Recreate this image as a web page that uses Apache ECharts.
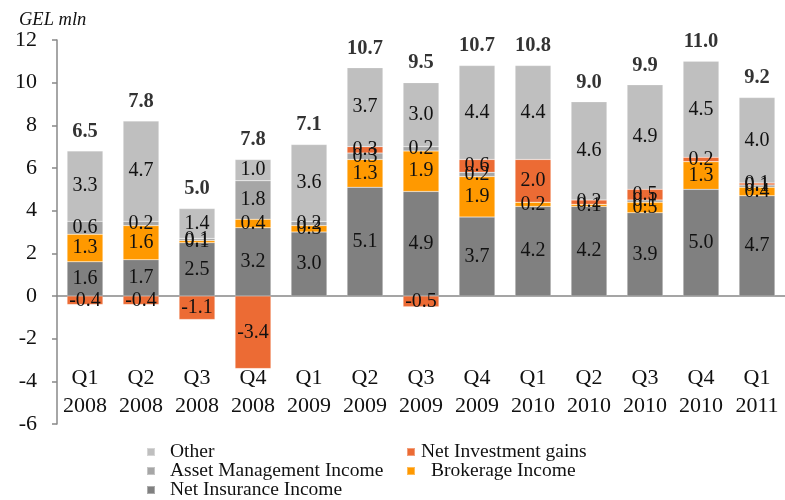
<!DOCTYPE html>
<html lang="en">
  <head>
    <meta charset="UTF-8" />
    <title>Revenue breakdown</title>
    <style>
      html,
      body {
        margin: 0;
        padding: 0;
        background: #fff;
      }
      #main {
        width: 785px;
        height: 500px;
      }
    </style>
  </head>
  <body>
    <div id="main"></div>
    <script src="https://cdn.jsdelivr.net/npm/echarts@6.0.0/dist/echarts.min.js"></script>
    <script>
      // data
      const quarters = ["Q1", "Q2", "Q3", "Q4", "Q1", "Q2", "Q3", "Q4", "Q1", "Q2", "Q3", "Q4", "Q1"];
      const years = ["2008", "2008", "2008", "2008", "2009", "2009", "2009", "2009", "2010", "2010", "2010", "2010", "2011"];
      const netInsurance = [1.6, 1.7, 2.5, 3.2, 3.0, 5.1, 4.9, 3.7, 4.2, 4.2, 3.9, 5.0, 4.7];
      const brokerage = [1.3, 1.6, 0.1, 0.4, 0.3, 1.3, 1.9, 1.9, 0.2, 0.1, 0.5, 1.3, 0.4];
      const assetMgmt = [0.6, 0.2, 0.1, 1.8, 0.2, 0.3, 0.2, 0.2, 0, 0, 0.1, 0, 0.1];
      const investGains = [-0.4, -0.4, -1.1, -3.4, 0, 0.3, -0.5, 0.6, 2.0, 0.2, 0.5, 0.2, 0.1];
      const other = [3.3, 4.7, 1.4, 1.0, 3.6, 3.7, 3.0, 4.4, 4.4, 4.6, 4.9, 4.5, 4.0];
      const totals = [6.5, 7.8, 5.0, 7.8, 7.1, 10.7, 9.5, 10.7, 10.8, 9.0, 9.9, 11.0, 9.2];
      const yTicks = { min: -6, max: 12, interval: 2 };

      const categories = quarters.map((q, i) => q + "\n" + years[i]);
      const font = "Liberation Serif";

      // top of the positive part of each stack, used to hang the totals
      const stackTop = categories.map((c, i) =>
        [netInsurance, brokerage, assetMgmt, investGains, other].reduce(
          (s, arr) => s + Math.max(arr[i], 0),
          0
        )
      );

      const segLabel = {
        show: true,
        position: "inside",
        fontFamily: font,
        fontSize: 20,
        color: "#111",
        formatter: (p) => (p.value === 0 ? "" : p.value.toFixed(1)),
      };

      function bar(name, data, color) {
        return {
          name: name,
          type: "bar",
          stack: "total",
          data: data,
          barCategoryGap: "36%",
          itemStyle: { color: color, borderColor: "rgba(255,255,255,0.35)", borderWidth: 0.5 },
          label: segLabel,
        };
      }

      // one legend per entry so the two-column Excel layout can be placed by hand
      const legendSlots = [
        ["Other", 146, 442, 10],
        ["Asset Management Income", 146, 461, 10],
        ["Net Insurance Income", 146, 480, 10],
        ["Net Investment gains", 406, 442, 1],
        ["Brokerage Income", 406, 461, 11],
      ];
      const legends = legendSlots.map(([name, left, top, gap]) => ({
        data: [name],
        left: left,
        top: top,
        padding: 0,
        itemWidth: 8,
        itemHeight: 8,
        icon: "rect",
        selectedMode: false,
        textStyle: { fontFamily: font, fontSize: 19.5, color: "#111", padding: [0, 0, 0, gap] },
      }));

      const myChart = echarts.init(document.getElementById("main"));
      const option = {
        animation: false,
        title: {
          text: "GEL mln",
          left: 14,
          top: 6,
          textStyle: { fontFamily: font, fontStyle: "italic", fontWeight: "normal", fontSize: 18.5, color: "#111" },
        },
        grid: { left: 57, right: 0, top: 40, bottom: 76 },
        legend: legends,
        xAxis: [
          {
            type: "category",
            data: categories,
            axisLine: { onZero: true, lineStyle: { color: "#888", width: 1.5 } },
            axisTick: { length: 5, lineStyle: { color: "#888", width: 1.5 } },
            axisLabel: { show: false },
          },
          {
            type: "category",
            data: categories,
            position: "bottom",
            axisLine: { show: false, onZero: false },
            axisTick: { show: false },
            axisLabel: {
              inside: true,
              interval: 0,
              margin: 4,
              fontFamily: font,
              fontSize: 22,
              lineHeight: 28,
              color: "#111",
            },
          },
        ],
        yAxis: {
          type: "value",
          min: yTicks.min,
          max: yTicks.max,
          interval: yTicks.interval,
          axisLine: { show: true, lineStyle: { color: "#888", width: 1.5 } },
          axisTick: { show: true, length: 5, lineStyle: { color: "#888", width: 1.5 } },
          splitLine: { show: false },
          axisLabel: { fontFamily: font, fontSize: 22, color: "#111", margin: 20 },
        },
        series: [
          bar("Net Insurance Income", netInsurance, "#808080"),
          bar("Brokerage Income", brokerage, "#FF9900"),
          bar("Asset Management Income", assetMgmt, "#A6A6A6"),
          bar("Net Investment gains", investGains, "#EC6B34"),
          bar("Other", other, "#BFBFBF"),
          {
            name: "Total",
            type: "scatter",
            data: stackTop,
            symbolSize: 0,
            silent: true,
            label: {
              show: true,
              position: "top",
              distance: 9,
              fontFamily: font,
              fontWeight: "bold",
              fontSize: 20.5,
              color: "#000",
              formatter: (p) => totals[p.dataIndex].toFixed(1),
            },
          },
        ],
      };

      myChart.setOption(option);
    </script>
  </body>
</html>
